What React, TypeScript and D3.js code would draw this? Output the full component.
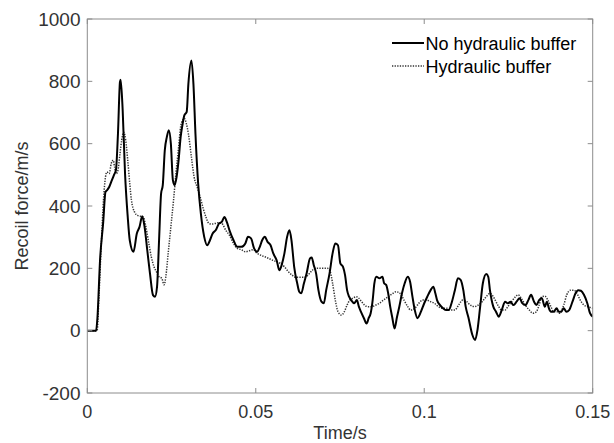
import React from "react";
import * as d3 from "d3";

// Time (s) and recoil force values
const noBufferTime = [0, .0026, .0030, .0038, .0047, .0054, .0058, .0065, .0073, .0079, .0085, .0091, .0097, .0099, .0105, .0112, .0120, .0126, .0137, .0147, .0155, .0163, .0170, .0178, .0186, .0195, .0201, .0207, .0213, .0219, .0224, .0230, .0236, .0242, .0248, .0254, .0259, .0265, .0271, .0277, .0283, .0288, .0295, .0300, .0309, .0315, .0321, .0329, .0337, .0347, .0356, .0364, .0372, .0381, .0391, .0399, .0407, .0414, .0422, .0434, .0445, .0457, .0469, .0477, .0486, .0495, .0504, .0512, .0519, .0527, .0535, .0544, .0552, .0562, .0570, .0577, .0585, .0593, .0600, .0606, .0614, .0623, .0629, .0635, .0643, .0651, .0661, .0666, .0672, .0679, .0686, .0695, .0702, .0709, .0719, .0728, .0736, .0744, .0751, .0759, .0765, .0771, .0777, .0783, .0792, .0800, .0806, .0812, .0821, .0829, .0835, .0841, .0847, .0852, .0858, .0867, .0876, .0881, .0887, .0893, .0899, .0905, .0912, .0919, .0926, .0934, .0942, .0951, .0958, .0965, .0972, .0980, .0986, .0992, .1000, .1009, .1019, .1027, .1033, .1038, .1047, .1056, .1065, .1073, .1081, .1091, .1100, .1108, .1116, .1123, .1131, .1143, .1151, .1158, .1166, .1174, .1184, .1190, .1195, .1205, .1213, .1221, .1230, .1240, .1248, .1256, .1265, .1274, .1283, .1291, .1300, .1309, .1317, .1326, .1333, .1341, .1349, .1358, .1364, .1370, .1376, .1384, .1393, .1399, .1407, .1414, .1422, .1430, .1440, .1449, .1457, .1465, .1474, .1484, .1492, .1500];
const noBufferForce = [0, 0, 40, 230, 345, 445, 450, 461, 483, 499, 515, 632, 798, 805, 707, 504, 365, 290, 253, 312, 333, 367, 333, 258, 184, 114, 109, 141, 290, 440, 467, 579, 621, 643, 600, 483, 467, 493, 547, 621, 664, 691, 702, 792, 867, 792, 632, 472, 376, 301, 274, 290, 312, 322, 344, 349, 365, 349, 322, 290, 269, 269, 280, 301, 296, 264, 253, 269, 290, 301, 285, 274, 248, 226, 194, 211, 248, 301, 322, 290, 205, 152, 125, 120, 152, 184, 232, 235, 211, 184, 130, 93, 88, 130, 184, 248, 280, 274, 216, 205, 178, 130, 109, 98, 88, 98, 77, 61, 40, 23, 40, 56, 98, 152, 173, 168, 173, 152, 147, 120, 77, 43, 7, 43, 77, 120, 152, 173, 157, 109, 66, 40, 50, 66, 88, 109, 130, 141, 120, 98, 82, 72, 66, 66, 88, 130, 168, 163, 130, 77, 43, -14, -30, 2, 77, 152, 182, 173, 130, 77, 61, 45, 66, 93, 88, 93, 82, 93, 104, 88, 82, 98, 115, 93, 82, 98, 104, 77, 93, 72, 61, 61, 72, 61, 61, 72, 61, 66, 93, 120, 130, 128, 115, 88, 56, 45];

const bufferTime = [0, .0029, .0035, .0042, .0048, .0054, .0058, .0065, .0071, .0077, .0081, .0086, .0091, .0097, .0102, .0108, .0114, .0120, .0126, .0131, .0140, .0149, .0158, .0166, .0174, .0181, .0190, .0198, .0205, .0213, .0221, .0228, .0233, .0240, .0248, .0256, .0263, .0271, .0277, .0283, .0288, .0294, .0300, .0309, .0317, .0326, .0335, .0344, .0352, .0361, .0370, .0379, .0387, .0399, .0411, .0422, .0434, .0445, .0457, .0469, .0480, .0492, .0504, .0515, .0527, .0538, .0550, .0562, .0573, .0585, .0597, .0608, .0620, .0631, .0643, .0655, .0666, .0678, .0690, .0701, .0713, .0721, .0728, .0736, .0744, .0754, .0763, .0771, .0779, .0788, .0798, .0806, .0814, .0823, .0833, .0844, .0856, .0867, .0879, .0893, .0905, .0916, .0928, .0940, .0951, .0960, .0972, .0984, .0995, .1007, .1019, .1030, .1042, .1054, .1067, .1079, .1091, .1102, .1114, .1126, .1137, .1149, .1160, .1172, .1184, .1195, .1205, .1213, .1221, .1230, .1240, .1248, .1259, .1271, .1279, .1288, .1300, .1312, .1323, .1333, .1341, .1349, .1358, .1367, .1376, .1384, .1393, .1402, .1414, .1423, .1434, .1445, .1453, .1463, .1474, .1486, .1500];
const bufferForce = [0, 0, 120, 290, 419, 493, 509, 504, 536, 547, 525, 504, 515, 568, 611, 637, 611, 547, 472, 419, 381, 370, 367, 365, 333, 290, 237, 205, 189, 173, 168, 147, 173, 248, 333, 419, 504, 590, 654, 675, 681, 664, 632, 557, 493, 461, 429, 392, 365, 344, 342, 344, 346, 344, 322, 306, 280, 264, 260, 253, 256, 260, 248, 242, 237, 232, 226, 221, 216, 205, 189, 178, 171, 171, 171, 178, 192, 200, 200, 200, 200, 189, 152, 98, 61, 50, 61, 82, 98, 104, 109, 104, 93, 82, 77, 77, 82, 88, 98, 109, 118, 125, 120, 98, 77, 66, 72, 88, 98, 98, 93, 88, 77, 72, 72, 66, 66, 82, 98, 93, 82, 77, 82, 93, 109, 120, 109, 93, 77, 66, 66, 77, 93, 109, 115, 104, 82, 66, 56, 61, 82, 109, 111, 98, 77, 61, 61, 56, 82, 115, 130, 130, 120, 98, 82, 77, 72];

const xTicks = [0, 0.05, 0.1, 0.15];
const xTickLabels = ["0", "0.05", "0.1", "0.15"];
const yTicks = [-200, 0, 200, 400, 600, 800, 1000];
const yTickLabels = ["-200", "0", "200", "400", "600", "800", "1000"];
const seriesNames = ["No hydraulic buffer", "Hydraulic buffer"];

export default function App() {
  const W = 614, H = 443;
  const L = 87.3, R = 592.7, T = 19, B = 393;
  const x = d3.scaleLinear().domain([0, 0.15]).range([L, R]);
  const y = d3.scaleLinear().domain([-200, 1000]).range([B, T]);
  const line = d3.line<[number, number]>().x(d => x(d[0])).y(d => y(d[1])).curve(d3.curveMonotoneX);
  const solid = line(noBufferTime.map((t, i) => [t, noBufferForce[i]]) as [number, number][]) || "";
  const dotted = line(bufferTime.map((t, i) => [t, bufferForce[i]]) as [number, number][]) || "";
  const axisColor = "#8c8c8c";
  const textColor = "#333";
  const font = "'Liberation Sans', Arial, sans-serif";
  const fs = 18;
  const tl = 5;
  return (
    <svg width={W} height={H} style={{ position: "absolute", left: 0, top: 0, background: "#fff" }} fontFamily={font}>
      <rect x={0} y={0} width={W} height={H} fill="#fff" />
      <defs>
        <clipPath id="plot"><rect x={L} y={T} width={R - L} height={B - T} /></clipPath>
      </defs>
      <g clipPath="url(#plot)">
        <path d={dotted} fill="none" stroke="#333" strokeWidth={1.5} strokeDasharray="1.3 1.3" />
        <path d={solid} fill="none" stroke="#000" strokeWidth={2} strokeLinejoin="round" />
      </g>
      <rect x={L} y={T} width={R - L} height={B - T} fill="none" stroke={axisColor} strokeWidth={1} />
      {xTicks.map((t, i) => (
        <g key={"x" + i}>
          <line x1={x(t)} x2={x(t)} y1={B} y2={B - tl} stroke={axisColor} />
          <line x1={x(t)} x2={x(t)} y1={T} y2={T + tl} stroke={axisColor} />
          <text x={x(t)} y={418} textAnchor="middle" fontSize={fs} fill={textColor}>{xTickLabels[i]}</text>
        </g>
      ))}
      {yTicks.map((v, i) => (
        <g key={"y" + i}>
          <line x1={L} x2={L + tl} y1={y(v)} y2={y(v)} stroke={axisColor} />
          <line x1={R} x2={R - tl} y1={y(v)} y2={y(v)} stroke={axisColor} />
          <text x={80.5} y={y(v) + 6.5} textAnchor="end" fontSize={19} fill={textColor}>{yTickLabels[i]}</text>
        </g>
      ))}
      <text x={(L + R) / 2} y={439} textAnchor="middle" fontSize={fs} fill={textColor}>Time/s</text>
      <text transform={`translate(27.5, ${(T + B) / 2}) rotate(-90)`} textAnchor="middle" fontSize={fs} fill={textColor}>Recoil force/m/s</text>
      <g>
        <line x1={392} x2={424} y1={43} y2={43} stroke="#000" strokeWidth={2} />
        <text x={425.5} y={49.5} fontSize={fs} fill="#000">{seriesNames[0]}</text>
        <line x1={392} x2={424} y1={66} y2={66} stroke="#333" strokeWidth={1.5} strokeDasharray="1.3 1.3" />
        <text x={425.5} y={72.5} fontSize={fs} fill="#000">{seriesNames[1]}</text>
      </g>
    </svg>
  );
}
